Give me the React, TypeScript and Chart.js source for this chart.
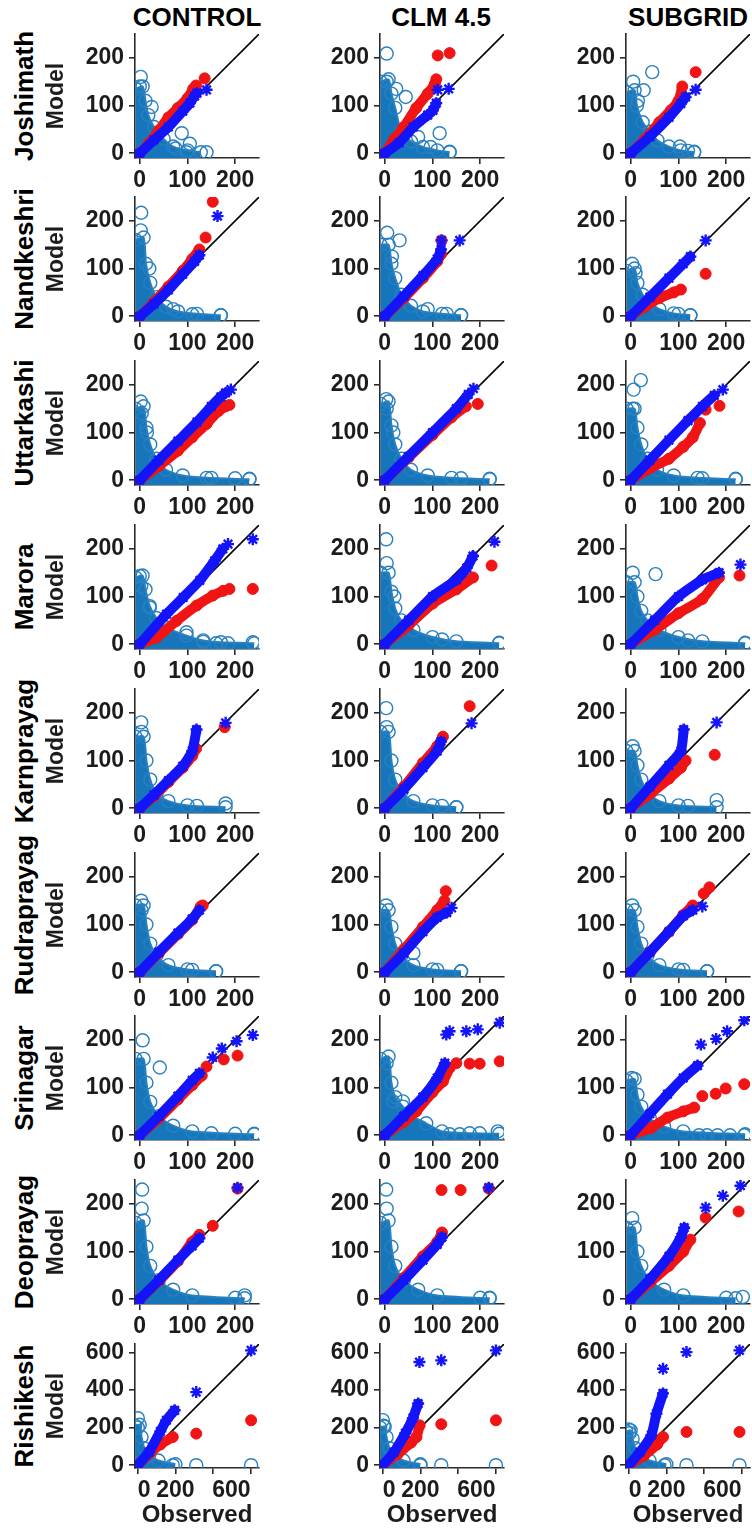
import React, { useEffect, useRef } from 'react';
import { Chart, registerables } from 'chart.js';
Chart.register(...registerables);

// ---------- labels / ticks ----------
const MODELS = ['CONTROL', 'CLM 4.5', 'SUBGRID'];
const STATIONS = ['Joshimath', 'Nandkeshri', 'Uttarkashi', 'Marora', 'Karnprayag', 'Rudraprayag', 'Srinagar', 'Deoprayag', 'Rishikesh'];
const TICKS_UPPER = [0, 100, 200];
const TICKS_LOWER = [0, 200, 400, 600];
const RANGE_UPPER = [-10, 250];
const RANGE_LOWER = [-15, 645];
const DIAG_UPPER = [0, 0, 250, 250];
const DIAG_LOWER = [0, 0, 645, 645];

// ---------- data: flat [x, y, x, y, ...] (observed, model) ----------
// Joshimath
const jo_ctl_red = [0, 0, 20, 22, 40, 48, 60, 75, 80, 95, 100, 115, 112, 135, 118, 142];
const jo_ctl_redT = [136, 157];
const jo_ctl_blue = [0, 0, 30, 28, 60, 55, 90, 88, 105, 105, 115, 120, 120, 126];
const jo_ctl_blueT = [140, 133];
const jo_ctl_cloud = [-9, 135, 6, 140, 12, 110, 18, 80, 30, 55, 50, 30, 70, 14, 100, 6, 128, 2];
const jo_ctl_ring = [2, 160, 0, 140, 25, 97, 88, 42, 105, 20, 75, 10, 98, 2, 140, 2];
const jo_clm_red = [0, 0, 20, 30, 40, 55, 66, 95, 90, 125, 105, 145, 108, 155];
const jo_clm_redT = [111, 205, 136, 210];
const jo_clm_blue = [0, 0, 30, 22, 60, 55, 90, 80, 101, 90, 108, 105];
const jo_clm_blueT = [111, 133, 134, 135];
const jo_clm_cloud = [-9, 150, 8, 155, 14, 125, 22, 95, 35, 45, 55, 25, 80, 13, 110, 6, 136, 2];
const jo_clm_ring = [4, 209, 4, 150, 24, 135, 44, 118, 115, 42, 96, 13, 136, 3, 70, 34];
const jo_sub_red = [0, 0, 30, 30, 60, 65, 84, 90, 100, 110, 108, 140];
const jo_sub_redT = [136, 170];
const jo_sub_blue = [0, 0, 40, 35, 80, 75, 105, 104, 115, 118];
const jo_sub_blueT = [136, 133];
const jo_sub_cloud = [-9, 128, 8, 132, 13, 100, 25, 65, 40, 45, 56, 27, 80, 14, 105, 6, 133, 2];
const jo_sub_ring = [45, 170, 5, 150, 27, 132, 15, 110, 103, 14, 133, 3, 120, 5];
// Nandkeshri
const na_ctl_red = [0, 0, 30, 30, 60, 62, 90, 95, 110, 120, 125, 140];
const na_ctl_redT = [138, 165, 153, 240];
const na_ctl_blue = [0, 0, 30, 26, 60, 55, 90, 88, 115, 115, 125, 128];
const na_ctl_blueT = [163, 210];
const na_ctl_cloud = [-9, 160, 8, 165, 13, 110, 22, 70, 35, 40, 55, 20, 80, 10, 120, 5, 170, 2];
const na_ctl_ring = [3, 217, 2, 180, 20, 100, 70, 15, 110, 4, 170, 2];
const na_clm_red = [0, 0, 40, 38, 80, 80, 110, 115, 118, 130];
const na_clm_redT = [119, 159];
const na_clm_blue = [0, 0, 40, 42, 80, 85, 110, 120, 118, 140];
const na_clm_blueT = [119, 159, 157, 159];
const na_clm_cloud = [-9, 150, 8, 150, 14, 110, 22, 80, 35, 45, 55, 22, 80, 10, 120, 5, 160, 2];
const na_clm_ring = [31, 159, 5, 175, 15, 125, 90, 15, 130, 5, 160, 2];
const na_sub_red = [0, 0, 30, 20, 60, 38, 90, 50, 105, 56];
const na_sub_redT = [157, 89];
const na_sub_blue = [0, 0, 40, 40, 80, 80, 110, 110, 125, 125];
const na_sub_blueT = [157, 159];
const na_sub_cloud = [-9, 95, 8, 100, 14, 70, 25, 45, 40, 28, 60, 15, 90, 6, 125, 2];
const na_sub_ring = [3, 110, 10, 90, 100, 5, 125, 2];
// Uttarkashi
const ut_ctl_red = [0, 0, 40, 30, 80, 62, 110, 90, 140, 118, 165, 145, 180, 155];
const ut_ctl_redT = [188, 158];
const ut_ctl_blue = [0, 0, 40, 42, 80, 82, 120, 122, 150, 155, 170, 175, 180, 183];
const ut_ctl_blueT = [191, 190];
const ut_ctl_cloud = [-9, 150, 8, 155, 14, 110, 22, 75, 35, 45, 55, 22, 90, 10, 140, 5, 230, 2];
const ut_ctl_ring = [2, 165, 4, 140, 15, 100, 150, 5, 200, 4, 230, 3];
const ut_clm_red = [0, 0, 50, 48, 100, 95, 140, 132, 170, 155];
const ut_clm_redT = [195, 160];
const ut_clm_blue = [0, 0, 50, 50, 100, 100, 150, 150, 175, 180];
const ut_clm_blueT = [186, 192];
const ut_clm_cloud = [-9, 160, 8, 165, 14, 115, 22, 75, 35, 45, 55, 22, 90, 10, 140, 5, 220, 2];
const ut_clm_ring = [3, 170, 4, 150, 18, 100, 160, 4, 220, 3];
const ut_sub_red = [0, 0, 40, 25, 80, 45, 110, 70, 130, 90, 145, 120];
const ut_sub_redT = [157, 148, 186, 156];
const ut_sub_blue = [0, 0, 40, 42, 80, 84, 120, 125, 150, 155, 175, 178];
const ut_sub_blueT = [193, 190];
const ut_sub_cloud = [-9, 150, 8, 150, 14, 110, 22, 75, 35, 45, 55, 22, 90, 10, 140, 5, 220, 2];
const ut_sub_ring = [21, 210, 6, 190, 4, 150, 150, 4, 220, 3];
// Marora
const ma_ctl_red = [0, 0, 35, 14, 77, 49, 119, 81, 153, 102, 175, 112];
const ma_ctl_redT = [188, 116, 237, 116];
const ma_ctl_blue = [0, 0, 56, 63, 91, 98, 126, 134, 157, 175, 174, 200];
const ma_ctl_blueT = [185, 210, 237, 220];
const ma_ctl_cloud = [-9, 140, 6, 144, 12, 115, 21, 80, 35, 55, 56, 35, 98, 18, 133, 8, 170, 4, 240, 2];
const ma_ctl_ring = [0, 143, 3, 122, 21, 77, 98, 25, 133, 5, 160, 2, 185, 2, 237, 4];
const ma_clm_red = [0, 0, 50, 40, 100, 85, 150, 115, 185, 140];
const ma_clm_redT = [224, 165];
const ma_clm_blue = [0, 0, 50, 50, 100, 100, 150, 135, 172, 160, 185, 185];
const ma_clm_blueT = [230, 215];
const ma_clm_cloud = [-9, 150, 8, 150, 14, 110, 22, 75, 35, 50, 60, 30, 100, 15, 150, 6, 240, 2];
const ma_clm_ring = [3, 220, 4, 170, 20, 100, 120, 10, 240, 3];
const ma_sub_red = [0, 0, 50, 30, 100, 65, 150, 95, 185, 140];
const ma_sub_redT = [228, 144];
const ma_sub_blue = [0, 0, 50, 50, 100, 100, 150, 135, 185, 150];
const ma_sub_blueT = [230, 167];
const ma_sub_cloud = [-9, 130, 8, 130, 14, 100, 22, 70, 35, 50, 60, 30, 100, 15, 150, 6, 240, 2];
const ma_sub_ring = [52, 147, 4, 150, 120, 8, 240, 3];
// Karnprayag
const ka_ctl_red = [0, 0, 30, 25, 60, 55, 90, 85, 110, 110, 118, 125];
const ka_ctl_redT = [178, 170];
const ka_ctl_blue = [0, 0, 30, 28, 60, 58, 90, 88, 110, 120, 119, 165];
const ka_ctl_blueT = [180, 179];
const ka_ctl_cloud = [-9, 150, 8, 150, 14, 100, 22, 60, 35, 30, 60, 15, 100, 6, 180, 2];
const ka_ctl_ring = [3, 180, 4, 160, 180, 10, 120, 5];
const ka_clm_red = [0, 0, 40, 45, 80, 95, 110, 130, 122, 150];
const ka_clm_redT = [178, 214];
const ka_clm_blue = [0, 0, 40, 40, 80, 85, 110, 120, 118, 140];
const ka_clm_blueT = [182, 178];
const ka_clm_cloud = [-9, 160, 8, 160, 14, 100, 22, 60, 35, 35, 60, 15, 100, 6, 150, 2];
const ka_clm_ring = [3, 210, 4, 170, 120, 5, 150, 2];
const ka_sub_red = [0, 0, 40, 30, 80, 62, 105, 85, 115, 100];
const ka_sub_redT = [176, 112];
const ka_sub_blue = [0, 0, 40, 45, 80, 90, 105, 120, 111, 165];
const ka_sub_blueT = [180, 180];
const ka_sub_cloud = [-9, 120, 8, 120, 14, 90, 22, 60, 35, 35, 60, 15, 100, 6, 180, 2];
const ka_sub_ring = [180, 17, 4, 130, 120, 5];
// Rudraprayag
const ru_ctl_red = [0, 0, 40, 40, 80, 80, 110, 110, 128, 138];
const ru_ctl_redT = [132, 140];
const ru_ctl_blue = [0, 0, 40, 42, 80, 82, 110, 112, 125, 130];
const ru_ctl_blueT = [];
const ru_ctl_cloud = [-9, 140, 8, 140, 14, 100, 22, 60, 35, 35, 60, 15, 100, 6, 160, 2];
const ru_ctl_ring = [3, 150, 4, 130, 110, 5, 160, 2];
const ru_clm_red = [0, 0, 40, 48, 80, 95, 110, 130, 125, 150];
const ru_clm_redT = [128, 170];
const ru_clm_blue = [0, 0, 40, 40, 80, 85, 110, 115, 130, 125];
const ru_clm_blueT = [140, 135];
const ru_clm_cloud = [-9, 130, 8, 130, 14, 95, 22, 60, 35, 35, 60, 15, 100, 6, 160, 2];
const ru_clm_ring = [3, 140, 60, 40, 110, 5, 160, 2];
const ru_sub_red = [0, 0, 40, 42, 80, 85, 110, 120, 130, 140];
const ru_sub_redT = [153, 165, 165, 178];
const ru_sub_blue = [0, 0, 40, 42, 80, 85, 110, 118, 130, 130];
const ru_sub_blueT = [150, 138];
const ru_sub_cloud = [-9, 130, 8, 130, 14, 95, 22, 60, 35, 35, 60, 15, 100, 6, 160, 2];
const ru_sub_ring = [3, 140, 110, 5, 160, 2];
// Srinagar
const sr_ctl_red = [0, 0, 40, 35, 80, 75, 110, 105, 130, 125];
const sr_ctl_redT = [140, 144, 176, 159, 205, 167];
const sr_ctl_blue = [0, 0, 40, 40, 80, 82, 110, 115, 125, 130];
const sr_ctl_blueT = [153, 163, 172, 182, 203, 197, 237, 210];
const sr_ctl_cloud = [-9, 160, 8, 160, 14, 110, 22, 70, 40, 40, 70, 20, 110, 8, 240, 2];
const sr_ctl_ring = [42, 142, 6, 199, 150, 4, 200, 3, 240, 3];
const sr_clm_red = [0, 0, 40, 28, 66, 50, 100, 90, 122, 113, 136, 141];
const sr_clm_redT = [150, 151, 178, 150, 199, 150, 241, 155];
const sr_clm_blue = [0, 0, 40, 40, 80, 80, 110, 120, 126, 151];
const sr_clm_blueT = [129, 211, 136, 218, 171, 218, 195, 222, 241, 236];
const sr_clm_cloud = [-9, 160, 8, 165, 14, 110, 22, 80, 38, 60, 52, 44, 87, 25, 120, 8, 240, 3];
const sr_clm_ring = [4, 151, 17, 71, 38, 71, 136, 2, 157, 2, 178, 4, 199, 4, 237, 8];
const sr_sub_red = [0, 0, 42, 15, 77, 37, 110, 50, 133, 58];
const sr_sub_redT = [150, 82, 178, 87, 199, 98, 238, 107];
const sr_sub_blue = [0, 0, 40, 45, 77, 86, 110, 120, 140, 146];
const sr_sub_blueT = [147, 190, 179, 202, 202, 218, 238, 241];
const sr_sub_cloud = [-9, 114, 8, 118, 14, 85, 22, 60, 40, 35, 70, 18, 110, 8, 240, 2];
const sr_sub_ring = [2, 120, 143, 0, 160, 0, 182, 0, 208, 0, 238, 0];
// Deoprayag
const de_ctl_red = [0, 0, 40, 38, 80, 80, 110, 120, 125, 135];
const de_ctl_redT = [153, 154, 205, 232];
const de_ctl_blue = [0, 0, 40, 40, 80, 82, 110, 112, 125, 128];
const de_ctl_blueT = [205, 234];
const de_ctl_cloud = [-9, 160, 8, 165, 14, 110, 22, 70, 40, 40, 70, 20, 110, 8, 220, 2];
const de_ctl_ring = [5, 230, 4, 190, 200, 3, 220, 8];
const de_clm_red = [0, 0, 40, 45, 80, 90, 110, 120, 120, 140];
const de_clm_redT = [119, 229, 159, 229, 218, 232];
const de_clm_blue = [0, 0, 40, 40, 80, 82, 110, 115, 120, 130];
const de_clm_blueT = [218, 234];
const de_clm_cloud = [-9, 160, 8, 165, 14, 110, 22, 70, 40, 40, 70, 20, 110, 8, 220, 2];
const de_clm_ring = [3, 230, 4, 190, 200, 3, 220, 3];
const de_sub_red = [0, 0, 40, 35, 80, 70, 110, 100, 125, 125];
const de_sub_redT = [157, 171, 226, 184];
const de_sub_blue = [0, 0, 40, 42, 80, 90, 105, 130, 112, 150];
const de_sub_blueT = [157, 192, 193, 217, 230, 238];
const de_sub_cloud = [-9, 150, 8, 150, 14, 100, 22, 70, 40, 40, 70, 20, 110, 8, 220, 2];
const de_sub_ring = [3, 170, 200, 3, 235, 5];
// Rishikesh
const ri_ctl_red = [0, 0, 64, 63, 120, 110, 186, 150];
const ri_ctl_redT = [311, 168, 603, 239];
const ri_ctl_blue = [0, 0, 60, 70, 120, 180, 152, 239, 196, 292];
const ri_ctl_blueT = [311, 389, 603, 611];
const ri_ctl_cloud = [-14, 210, 10, 215, 20, 150, 35, 90, 60, 50, 110, 25, 200, 5];
const ri_ctl_ring = [0, 250, 0, 200, 186, 0, 311, 0, 603, 0];
const ri_clm_red = [0, 0, 80, 60, 150, 120, 179, 150, 196, 212];
const ri_clm_redT = [311, 218, 602, 239];
const ri_clm_blue = [0, 0, 60, 70, 120, 170, 160, 250, 188, 328];
const ri_clm_blueT = [195, 549, 311, 558, 602, 611];
const ri_clm_cloud = [-14, 200, 10, 205, 20, 150, 35, 90, 60, 50, 110, 25, 200, 5];
const ri_clm_ring = [0, 240, 5, 210, 200, 0, 311, 0, 602, 0];
const ri_sub_red = [0, 0, 80, 50, 150, 110, 182, 150];
const ri_sub_redT = [307, 177, 589, 177];
const ri_sub_blue = [0, 0, 60, 70, 120, 160, 147, 274, 182, 382];
const ri_sub_blueT = [182, 513, 307, 602, 589, 611];
const ri_sub_cloud = [-14, 180, 10, 185, 20, 140, 35, 90, 60, 50, 110, 25, 200, 5];
const ri_sub_ring = [0, 190, 5, 170, 190, 0, 307, 0, 589, 0];

// ---------- table built from the arrays ----------
const P = (red, redT, blue, blueT, cloud, ring) => ({ red, redT, blue, blueT, cloud, ring });
const PANELS = [
  [P(jo_ctl_red, jo_ctl_redT, jo_ctl_blue, jo_ctl_blueT, jo_ctl_cloud, jo_ctl_ring), P(jo_clm_red, jo_clm_redT, jo_clm_blue, jo_clm_blueT, jo_clm_cloud, jo_clm_ring), P(jo_sub_red, jo_sub_redT, jo_sub_blue, jo_sub_blueT, jo_sub_cloud, jo_sub_ring)],
  [P(na_ctl_red, na_ctl_redT, na_ctl_blue, na_ctl_blueT, na_ctl_cloud, na_ctl_ring), P(na_clm_red, na_clm_redT, na_clm_blue, na_clm_blueT, na_clm_cloud, na_clm_ring), P(na_sub_red, na_sub_redT, na_sub_blue, na_sub_blueT, na_sub_cloud, na_sub_ring)],
  [P(ut_ctl_red, ut_ctl_redT, ut_ctl_blue, ut_ctl_blueT, ut_ctl_cloud, ut_ctl_ring), P(ut_clm_red, ut_clm_redT, ut_clm_blue, ut_clm_blueT, ut_clm_cloud, ut_clm_ring), P(ut_sub_red, ut_sub_redT, ut_sub_blue, ut_sub_blueT, ut_sub_cloud, ut_sub_ring)],
  [P(ma_ctl_red, ma_ctl_redT, ma_ctl_blue, ma_ctl_blueT, ma_ctl_cloud, ma_ctl_ring), P(ma_clm_red, ma_clm_redT, ma_clm_blue, ma_clm_blueT, ma_clm_cloud, ma_clm_ring), P(ma_sub_red, ma_sub_redT, ma_sub_blue, ma_sub_blueT, ma_sub_cloud, ma_sub_ring)],
  [P(ka_ctl_red, ka_ctl_redT, ka_ctl_blue, ka_ctl_blueT, ka_ctl_cloud, ka_ctl_ring), P(ka_clm_red, ka_clm_redT, ka_clm_blue, ka_clm_blueT, ka_clm_cloud, ka_clm_ring), P(ka_sub_red, ka_sub_redT, ka_sub_blue, ka_sub_blueT, ka_sub_cloud, ka_sub_ring)],
  [P(ru_ctl_red, ru_ctl_redT, ru_ctl_blue, ru_ctl_blueT, ru_ctl_cloud, ru_ctl_ring), P(ru_clm_red, ru_clm_redT, ru_clm_blue, ru_clm_blueT, ru_clm_cloud, ru_clm_ring), P(ru_sub_red, ru_sub_redT, ru_sub_blue, ru_sub_blueT, ru_sub_cloud, ru_sub_ring)],
  [P(sr_ctl_red, sr_ctl_redT, sr_ctl_blue, sr_ctl_blueT, sr_ctl_cloud, sr_ctl_ring), P(sr_clm_red, sr_clm_redT, sr_clm_blue, sr_clm_blueT, sr_clm_cloud, sr_clm_ring), P(sr_sub_red, sr_sub_redT, sr_sub_blue, sr_sub_blueT, sr_sub_cloud, sr_sub_ring)],
  [P(de_ctl_red, de_ctl_redT, de_ctl_blue, de_ctl_blueT, de_ctl_cloud, de_ctl_ring), P(de_clm_red, de_clm_redT, de_clm_blue, de_clm_blueT, de_clm_cloud, de_clm_ring), P(de_sub_red, de_sub_redT, de_sub_blue, de_sub_blueT, de_sub_cloud, de_sub_ring)],
  [P(ri_ctl_red, ri_ctl_redT, ri_ctl_blue, ri_ctl_blueT, ri_ctl_cloud, ri_ctl_ring), P(ri_clm_red, ri_clm_redT, ri_clm_blue, ri_clm_blueT, ri_clm_cloud, ri_clm_ring), P(ri_sub_red, ri_sub_redT, ri_sub_blue, ri_sub_blueT, ri_sub_cloud, ri_sub_ring)],
];

// ---------- styling / layout ----------
const FONT = "'Liberation Sans', Arial, Helvetica, sans-serif";
const RED = 'rgb(240,20,20)';
const BLUE = 'rgb(20,20,250)';
const CLOUD = 'rgb(22,118,188)';
const RING = 'rgb(40,128,192)';
const AXIS = '#2a2a2a';
const TXT = '#1c1c1c';
const PLOT = 124;
const PLOT_L = [135, 380, 626];
const plotTop = (r) => Math.round(33.6 + 163.8 * r);
const COL_CX = [197, 441, 688];
const STATION_CX = 23.5;

const toXY = (a) => {
  const out = [];
  for (let i = 0; i + 1 < a.length; i += 2) out.push({ x: a[i], y: a[i + 1] });
  return out;
};

Chart.defaults.font.family = FONT;

function Panel({ r, c, d }) {
  const ref = useRef(null);
  const last = r === STATIONS.length - 1;
  const YW = 100, PT = 26, PR = 28;
  const XH = last ? 74 : 42;
  const W = YW + PLOT + PR;
  const H = PT + PLOT + XH;
  const left = PLOT_L[c] - YW;
  const top = plotTop(r) - PT;

  useEffect(() => {
    const range = last ? RANGE_LOWER : RANGE_UPPER;
    const ticks = last ? TICKS_LOWER : TICKS_UPPER;
    const diag = last ? DIAG_LOWER : DIAG_UPPER;
    const tickFont = { family: FONT, size: 23, weight: 'bold' };
    const marks = (pts, color, style, order) => ({
      data: toXY(pts), showLine: false, order,
      pointStyle: style, pointRadius: style === 'star' ? 6 : 5.5,
      pointBorderColor: color, pointBackgroundColor: color,
      pointBorderWidth: style === 'star' ? 2.4 : 1,
    });
    const band = (pts, color, style, order) => ({
      data: toXY(pts), showLine: true, order, fill: false, tension: 0.2,
      borderColor: color, borderWidth: 10, borderCapStyle: 'round', borderJoinStyle: 'round',
      pointStyle: style, pointRadius: style === 'star' ? 6 : 5.5,
      pointBorderColor: color, pointBackgroundColor: color,
      pointBorderWidth: style === 'star' ? 2.4 : 1,
    });
    const axis = (isX) => ({
      type: 'linear',
      min: range[0], max: range[1],
      afterBuildTicks: (s) => { s.ticks = ticks.map((v) => ({ value: v })); },
      afterFit: (s) => { if (isX) s.height = XH; else s.width = YW; },
      border: { display: true, color: AXIS, width: 1.6 },
      grid: { display: true, drawOnChartArea: false, drawTicks: true, tickLength: 6, color: AXIS, lineWidth: 1.6 },
      ticks: {
        autoSkip: false, maxRotation: 0, minRotation: 0, padding: isX ? 3 : 5,
        color: TXT, font: tickFont,
        align: isX && last ? 'inner' : 'center',
        callback: (v) => (isX && last && v === 400 ? '' : String(v)),
      },
      title: isX
        ? { display: last, text: 'Observed', color: TXT, font: { family: FONT, size: 24, weight: 'bold' }, padding: { top: 0, bottom: 12 } }
        : { display: c === 0, text: 'Model', color: TXT, font: { family: FONT, size: 23, weight: 'bold' }, padding: { top: 8, bottom: 0 } },
    });

    const chart = new Chart(ref.current, {
      type: 'line',
      data: {
        datasets: [
          marks(d.blueT, BLUE, 'star', 0),
          band(d.blue, BLUE, 'star', 1),
          marks(d.redT, RED, 'circle', 2),
          band(d.red, RED, 'circle', 3),
          { data: toXY(diag), showLine: true, order: 4, borderColor: '#000', borderWidth: 1.6, pointRadius: 0, fill: false },
          { data: toXY(d.ring), showLine: false, order: 5, pointStyle: 'circle', pointRadius: 6.5, pointBorderColor: RING, pointBackgroundColor: 'rgba(0,0,0,0)', pointBorderWidth: 1.4 },
          { data: toXY(d.cloud), showLine: true, order: 6, fill: 'start', tension: 0.25, backgroundColor: CLOUD, borderColor: RING, borderWidth: 2, pointStyle: 'circle', pointRadius: 6.5, pointBorderColor: RING, pointBackgroundColor: 'rgba(0,0,0,0)', pointBorderWidth: 1.4 },
        ],
      },
      options: {
        responsive: false,
        devicePixelRatio: 1,
        animation: false,
        events: [],
        layout: { padding: { left: 0, top: PT, right: PR, bottom: 0 } },
        plugins: { legend: { display: false }, tooltip: { enabled: false } },
        scales: { x: axis(true), y: axis(false) },
      },
    });
    return () => chart.destroy();
  }, []);

  return <canvas ref={ref} width={W} height={H} style={{ position: 'absolute', left, top, width: W, height: H }} />;
}

export default function App() {
  return (
    <div style={{ position: 'absolute', left: 0, top: 0, width: 752, height: 1534, overflow: 'hidden', background: '#fff', fontFamily: FONT, color: '#000' }}>
      {MODELS.map((m, i) => (
        <div key={m} style={{ position: 'absolute', left: COL_CX[i] - 100, top: 4, width: 200, height: 26, lineHeight: '26px', textAlign: 'center', fontSize: 26, fontWeight: 'bold' }}>{m}</div>
      ))}
      {STATIONS.map((s, r) => {
        const cy = plotTop(r) + PLOT / 2;
        return (
          <div key={s} style={{ position: 'absolute', left: STATION_CX - 90, top: cy - 15, width: 180, height: 30, lineHeight: '30px', textAlign: 'center', fontSize: 26, fontWeight: 'bold', whiteSpace: 'nowrap', transform: 'rotate(-90deg)' }}>{s}</div>
        );
      })}
      {PANELS.map((row, r) => row.map((d, c) => <Panel key={r + '-' + c} r={r} c={c} d={d} />))}
    </div>
  );
}
